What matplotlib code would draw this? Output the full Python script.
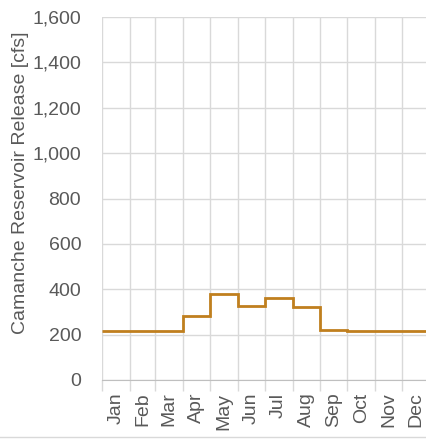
import matplotlib
matplotlib.use("Agg")
import matplotlib.pyplot as plt
import numpy as np

months = ["Jan", "Feb", "Mar", "Apr", "May", "Jun",
          "Jul", "Aug", "Sep", "Oct", "Nov", "Dec"]
days_in_month = [31, 28, 31, 30, 31, 30, 31, 31, 30, 31, 30, 31]
release_cfs = [218, 218, 218, 280, 378, 327, 362, 323, 222, 218, 218, 218]

plt.rcParams["font.family"] = ["Liberation Sans", "DejaVu Sans"]
text_color = "#595959"
grid_color = "#d9d9d9"

month_edges = np.concatenate([[0], np.cumsum(days_in_month)])
month_mids = (month_edges[:-1] + month_edges[1:]) / 2

fig = plt.figure(figsize=(4.26, 4.42), dpi=100)
ax = fig.add_axes([102 / 426, 62 / 442, 328 / 426, 363 / 442])

ax.stairs(release_cfs, month_edges, color="#C07F1E", linewidth=2.0, baseline=None)

ax.set_xlim(0, 365)
ax.set_ylim(0, 1600)
ax.set_yticks(np.arange(0, 1601, 200))
ax.yaxis.set_major_formatter(matplotlib.ticker.StrMethodFormatter("{x:,.0f}"))

# month boundaries carry the grid, month centres carry the labels
ax.set_xticks(month_edges[:-1])
ax.set_xticklabels([])
ax.set_xticks(month_mids, minor=True)
ax.set_xticklabels(months, minor=True, rotation=90)

ax.tick_params(axis="x", which="major", length=8, color=grid_color, width=1)
ax.tick_params(axis="x", which="minor", length=0, pad=9, labelsize=14, labelcolor=text_color)
ax.tick_params(axis="y", length=0, pad=15, labelsize=14, labelcolor=text_color)

ax.grid(True, which="major", color=grid_color, linewidth=1)
ax.set_axisbelow(True)
for side in ["top", "right", "left"]:
    ax.spines[side].set_visible(False)
ax.spines["bottom"].set_color("#bfbfbf")

ax.set_ylabel("Camanche Reservoir Release [cfs]", fontsize=14, color=text_color)
ax.yaxis.set_label_coords(-0.223, 0.543)

fig.add_artist(plt.Line2D([0, 1], [5 / 442, 5 / 442], color=grid_color, linewidth=1))

fig.savefig("out.png", dpi=100)
